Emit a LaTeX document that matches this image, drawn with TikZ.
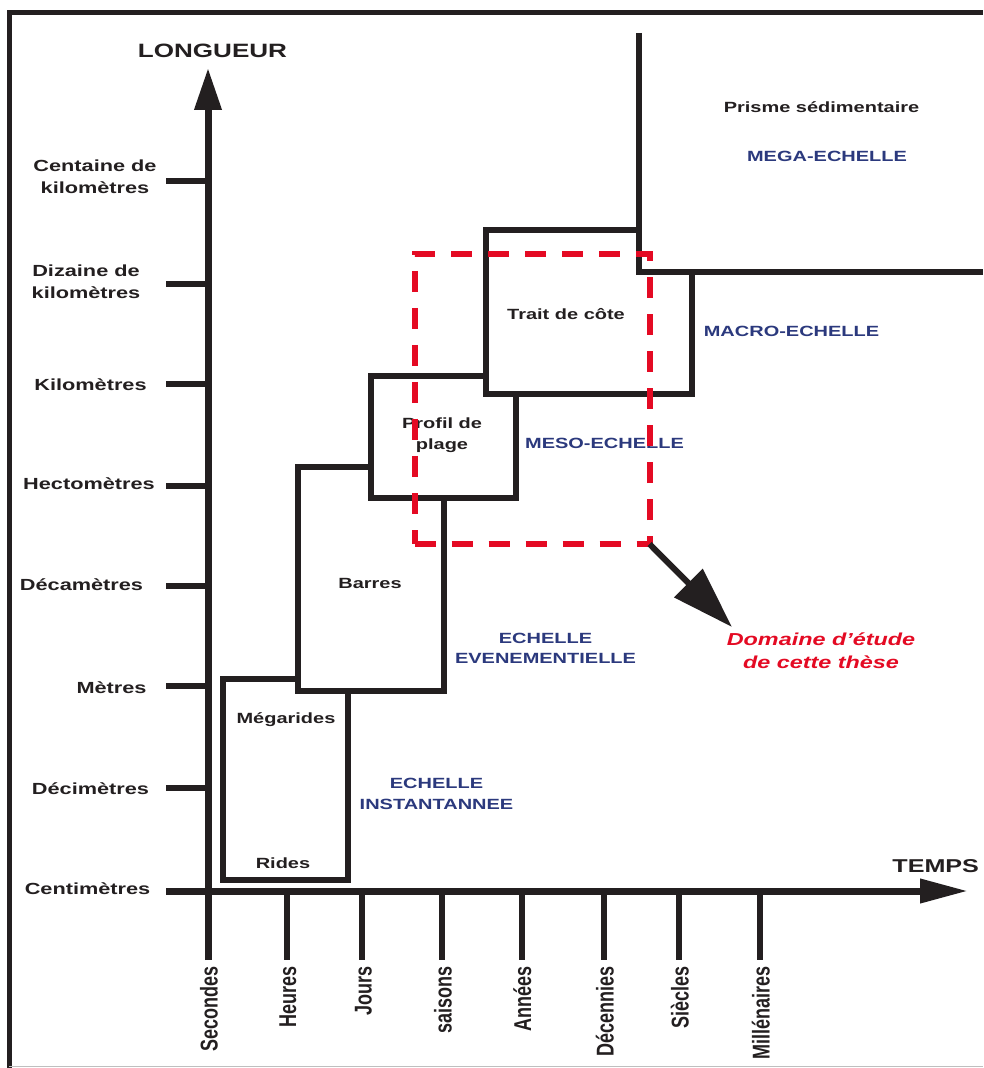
\documentclass[tikz,border=0pt]{standalone}
\usepackage{fontspec}
\setmainfont{Liberation Sans}
\usepackage{graphicx}
\usetikzlibrary{arrows.meta}
\definecolor{ink}{RGB}{35,31,32}
\definecolor{echblue}{RGB}{43,57,125}
\definecolor{thred}{RGB}{228,10,35}
\newcommand\stx[1]{\scalebox{1.35}[1]{#1}}
\newcommand\sty[1]{\scalebox{1}[1.35]{#1}}
\newcommand\twoline[2]{\vtop{\halign{\hfil##\hfil\cr\stx{#1}\cr\stx{#2}\cr}}}
\begin{document}
\begin{tikzpicture}[x=0.5pt,y=-0.5pt,
  boxline/.style={draw=ink, line width=2.75pt, line join=miter},
  axisline/.style={draw=ink, line width=3.5pt},
  tickline/.style={draw=ink, line width=3pt},
  lbl/.style={inner sep=0pt, anchor=base, text=ink, font=\bfseries\fontsize{7.4}{10.5}\selectfont},
  blbl/.style={lbl, text=echblue},
  ylbl/.style={inner sep=0pt, anchor=base, text=ink, font=\bfseries\fontsize{8.04}{11}\selectfont},
  biglbl/.style={inner sep=0pt, anchor=base, text=ink, font=\bfseries\fontsize{9.65}{12}\selectfont},
  vlbl/.style={inner sep=0pt, rotate=90, anchor=base east, text=ink, font=\bfseries\fontsize{9}{11}\selectfont},
  redlbl/.style={inner sep=0pt, anchor=base, text=thred, font=\bfseries\itshape\fontsize{8.66}{11.75}\selectfont}
]
\useasboundingbox (0,0) rectangle (983,1068);
\fill[white] (0,0) rectangle (983,1068);

% frame
\draw[ink, line width=2.5pt] (9,1068) -- (9,12.5) -- (983,12.5);
\draw[black!25, line width=0.5pt] (9,1066) -- (983,1066);

% boxes
\draw[boxline] (298,679) -- (223,679) -- (223,880) -- (348,880) -- (348,691);
\draw[boxline] (371,467) -- (298,467) -- (298,691) -- (444,691) -- (444,498);
\draw[boxline] (486,376) -- (371,376) -- (371,498) -- (516,498) -- (516,394);
\draw[boxline] (639,230) -- (486,230) -- (486,394) -- (692,394) -- (692,272);
\draw[boxline] (639,33) -- (639,272) -- (983,272);

% axes
\draw[axisline, -{Triangle[length=21pt,width=13pt]}] (208,960) -- (208,68);
\draw[axisline, -{Triangle[length=24pt,width=11.5pt]}] (166,891) -- (968,891);

% length ticks
\foreach \yy in {181,284,384,486,586,686,788} {
  \draw[tickline] (166,\yy) -- (208,\yy);
}
% time ticks
\foreach \xx in {286.5,362,442,521.5,604,679,760} {
  \draw[tickline] (\xx,891) -- (\xx,960);
}

% axis titles
\node[biglbl] (longueur) at (212.5,58) {\stx{LONGUEUR}};
\node[biglbl, anchor=base west, font=\bfseries\fontsize{9.3}{12}\selectfont] (temps) at (892,872) {\stx{TEMPS}};

% length labels
\node[ylbl] (lcent) at (95,172) {\twoline{Centaine de}{kilomètres}};
\node[ylbl] (ldiz) at (86,277) {\twoline{Dizaine de}{kilomètres}};
\node[ylbl] (lkm) at (90.5,391) {\stx{Kilomètres}};
\node[ylbl] (lhm) at (89,489) {\stx{Hectomètres}};
\node[ylbl] (ldam) at (81.5,590) {\stx{Décamètres}};
\node[ylbl] (lm) at (111.5,693) {\stx{Mètres}};
\node[ylbl] (ldm) at (90.5,794) {\stx{Décimètres}};
\node[ylbl] (lcm) at (87.5,894) {\stx{Centimètres}};

% time labels
\node[vlbl] (tsec) at (217.5,966) {\sty{Secondes}};
\node[vlbl] (theu) at (296,966) {\sty{Heures}};
\node[vlbl] (tjou) at (371.5,966) {\sty{Jours}};
\node[vlbl] (tsai) at (451.5,966) {\sty{saisons}};
\node[vlbl] (tann) at (531,966) {\sty{Années}};
\node[vlbl] (tdec) at (613.5,966) {\sty{Décennies}};
\node[vlbl] (tsie) at (688.5,966) {\sty{Siècles}};
\node[vlbl] (tmil) at (769.5,966) {\sty{Millénaires}};

% box labels
\node[lbl] (prisme) at (821.5,113) {\stx{Prisme sédimentaire}};
\node[blbl] (mega) at (827,162) {\stx{MEGA-ECHELLE}};
\node[lbl] (trait) at (566,320) {\stx{Trait de côte}};
\node[blbl] (macro) at (791.5,337) {\stx{MACRO-ECHELLE}};
\node[lbl] (profil) at (442,429) {\twoline{Profil de}{plage}};
\node[blbl] (meso) at (604.5,449) {\stx{MESO-ECHELLE}};
\node[lbl] (barres) at (370,588) {\stx{Barres}};
\node[blbl, font=\bfseries\fontsize{7.4}{10.25}\selectfont] (even) at (545.5,643) {\twoline{ECHELLE}{EVENEMENTIELLE}};
\node[lbl] (megar) at (286,723.5) {\stx{Mégarides}};
\node[lbl] (rides) at (283,868) {\stx{Rides}};
\node[blbl] (inst) at (436.5,788) {\twoline{ECHELLE}{INSTANTANNEE}};

% study domain
\node[draw=thred, line width=3pt, dash pattern=on 10.5pt off 8pt,
      minimum width=117.5pt, minimum height=145pt, inner sep=0pt, outer sep=0pt]
      (dom) at (532,399) {};
\node[redlbl] (domlbl) at (821,645) {\twoline{Domaine d\symbol{"27}étude}{de cette thèse}};
\coordinate (domtip) at (732,627);
\draw[ink, line width=3pt, -{Triangle[length=31pt,width=19.5pt]}] (dom.south east) -- (domtip);
\end{tikzpicture}
\end{document}
